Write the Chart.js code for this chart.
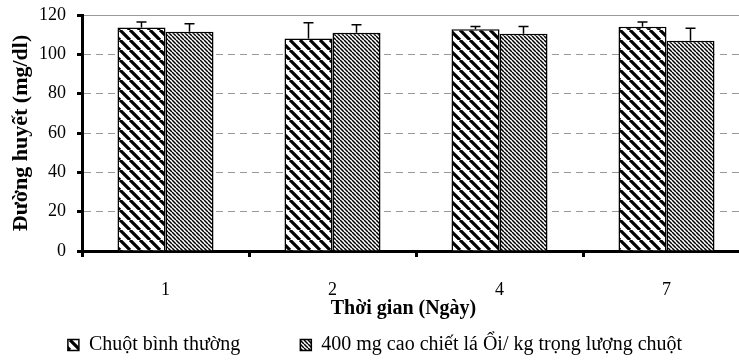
<!DOCTYPE html>
<html>
<head>
<meta charset="utf-8">
<script src="https://cdn.jsdelivr.net/npm/chart.js@4"></script>
<style>
  html, body { margin: 0; padding: 0; background: #fff; overflow: hidden; }
  #wrap { position: absolute; left: 0; top: 0; width: 757px; height: 365px; }
</style>
</head>
<body>
<div id="wrap"><canvas id="glucoseChart"></canvas></div>
<script>
// dữ liệu
const days = ['1', '2', '4', '7'];
const seriesNames = ['Chuột bình thường', '400 mg cao chiết lá Ổi/ kg trọng lượng chuột'];
const normalMice = [113.7, 108.1, 112.7, 114.0];
const normalErr = [2.7, 8.0, 1.5, 2.4];
const extractMice = [111.5, 111.0, 110.5, 106.9];
const extractErr = [4.1, 4.0, 3.7, 6.3];
const yTicks = [0, 20, 40, 60, 80, 100, 120];

const FONT = 'Liberation Serif';
Chart.defaults.font.family = FONT;
Chart.defaults.color = '#000';

// tạo mẫu sọc chéo "\"
function makeHatch(size, lineW) {
    const c = document.createElement('canvas');
    c.width = c.height = size;
    const g = c.getContext('2d');
    g.fillStyle = '#fff';
    g.fillRect(0, 0, size, size);
    g.strokeStyle = '#000';
    g.lineWidth = lineW;
    g.beginPath();
    for (let k = -1; k <= 1; k++) {
        g.moveTo(k * size, 0);
        g.lineTo(k * size + size, size);
    }
    g.stroke();
    return g.createPattern(c, 'repeat');
}

// thanh sai số (chỉ phía trên)
const errorBars = {
    id: 'errorBars',
    afterDatasetsDraw(chart) {
        const { ctx } = chart;
        const y = chart.scales.y;
        ctx.save();
        ctx.strokeStyle = '#000';
        ctx.lineWidth = 1.5;
        chart.data.datasets.forEach((ds, i) => {
            chart.getDatasetMeta(i).data.forEach((bar, j) => {
                const top = y.getPixelForValue(ds.data[j] + ds.errors[j]);
                ctx.beginPath();
                ctx.moveTo(bar.x, bar.y);
                ctx.lineTo(bar.x, top);
                ctx.moveTo(bar.x - 5, top);
                ctx.lineTo(bar.x + 5, top);
                ctx.stroke();
            });
        });
        ctx.restore();
    }
};

const barCommon = {
    borderColor: '#000',
    borderWidth: 1.5,
    categoryPercentage: 0.575,
    barPercentage: 1
};

new Chart(document.getElementById('glucoseChart'), {
    type: 'bar',
    data: {
        labels: days,
        datasets: [
            { ...barCommon, label: seriesNames[0], data: normalMice, errors: normalErr, backgroundColor: makeHatch(10, 3.2) },
            { ...barCommon, label: seriesNames[1], data: extractMice, errors: extractErr, backgroundColor: makeHatch(4, 1.5) }
        ]
    },
    options: {
        responsive: true,
        maintainAspectRatio: false,
        animation: false,
        layout: { padding: { top: 15, right: 7, left: 0, bottom: 0 } },
        scales: {
            x: {
                grid: { drawOnChartArea: false, offset: true, tickLength: 6, tickWidth: 3, tickColor: '#000' },
                border: { color: '#000', width: 3 },
                ticks: { font: { size: 18 }, padding: 22 },
                title: {
                    display: true,
                    text: 'Thời gian (Ngày)     ',
                    font: { size: 20, weight: 'bold' },
                    padding: { top: 0, bottom: 4 }
                },
                afterFit(s) { s.height = 74; }
            },
            y: {
                min: 0,
                max: 120,
                afterBuildTicks(s) { s.ticks = yTicks.map(v => ({ value: v })); },
                ticks: { font: { size: 18 }, padding: 11 },
                grid: { color: '#999', lineWidth: 1, tickLength: 5, tickWidth: 3, tickColor: '#000', tickBorderDash: [] },
                border: {
                    color: '#000',
                    width: 3,
                    dash: ctx => (ctx.tick && ctx.tick.value === 120 ? [] : [7, 5])
                },
                title: {
                    display: true,
                    text: 'Đường huyết (mg/dl)',
                    font: { size: 22, weight: 'bold' },
                    padding: { top: 8, bottom: 0 }
                },
                afterFit(s) {
                    s.width = 82;
                    s.paddingTop = 0;
                    s.paddingBottom = 0;
                }
            }
        },
        plugins: {
            legend: {
                position: 'bottom',
                labels: {
                    boxWidth: 11,
                    boxHeight: 11,
                    padding: 10,
                    font: { size: 20 },
                    generateLabels(chart) {
                        const items = Chart.defaults.plugins.legend.labels.generateLabels(chart);
                        items[0].text += '          ';
                        return items;
                    }
                }
            },
            tooltip: { enabled: false }
        }
    },
    plugins: [errorBars]
});
</script>
</body>
</html>
